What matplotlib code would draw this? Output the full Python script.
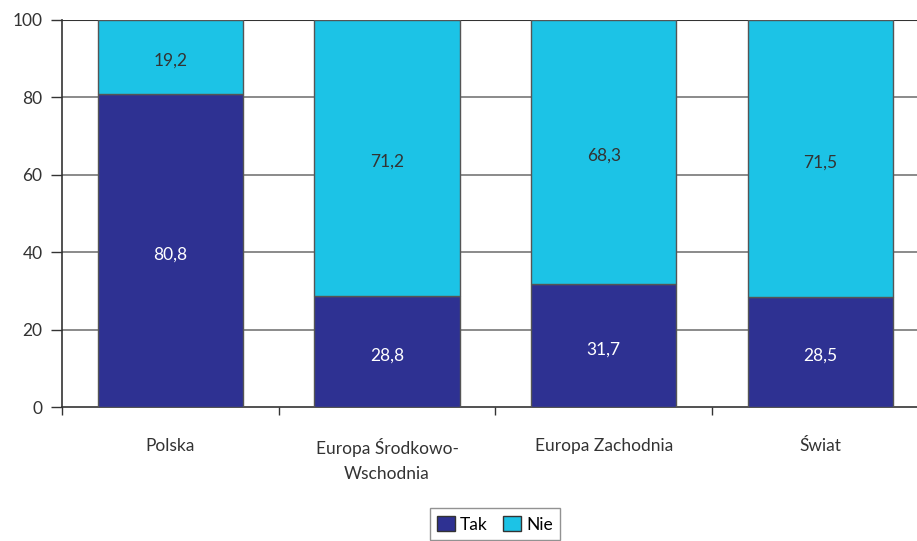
import matplotlib.pyplot as plt
import numpy as np

plt.rcParams['font.family'] = ['Lato', 'DejaVu Sans']

categories = ['Polska', 'Europa Środkowo-\nWschodnia', 'Europa Zachodnia', 'Świat']
tak = [80.8, 28.8, 31.7, 28.5]
nie = [19.2, 71.2, 68.3, 71.5]

c_tak = '#2E3192'
c_nie = '#1CC3E6'
fs = 12.5

fig = plt.figure(figsize=(9.17, 5.41), dpi=100)
ax = fig.add_axes([62 / 917, 1 - 407 / 541, 4 * 216.7 / 917, 387 / 541])

x = np.arange(len(categories))
ax.bar(x, tak, width=0.67, color=c_tak, edgecolor='#555555', linewidth=1, label='Tak', zorder=3)
ax.bar(x, nie, width=0.67, bottom=tak, color=c_nie, edgecolor='#555555', linewidth=1, label='Nie', zorder=3)

for i in range(len(categories)):
    ax.text(x[i], tak[i] / 2 - 1, f'{tak[i]:.1f}'.replace('.', ','), ha='center', va='center',
            color='white', fontsize=fs, zorder=4)
    ax.text(x[i], tak[i] + nie[i] / 2 - 1, f'{nie[i]:.1f}'.replace('.', ','), ha='center', va='center',
            color='#333333', fontsize=fs, zorder=4)

ax.set_xlim(-0.5, len(categories) - 0.5)
ax.set_ylim(0, 100)
ax.set_yticks([0, 20, 40, 60, 80, 100])
ax.set_xticks(x)
ax.set_xticklabels(categories, fontsize=fs, color='#333333', linespacing=1.75)
ax.set_xticks(np.arange(len(categories)) - 0.5, minor=True)
ax.tick_params(axis='x', which='major', length=0, pad=22)
ax.tick_params(axis='x', which='minor', length=6, width=1, color='#333333')
ax.tick_params(axis='y', length=8, width=1, color='#333333', labelsize=fs, labelcolor='#333333', pad=6)

for v in [20, 40, 60, 80]:
    ax.axhline(v, color='#777777', linewidth=1.2, zorder=1)
ax.axhline(100, color='#333333', linewidth=1.5, zorder=1)

for s in ['top', 'right']:
    ax.spines[s].set_visible(False)
for s in ['left', 'bottom']:
    ax.spines[s].set_color('#333333')
    ax.spines[s].set_linewidth(1.2)

leg = fig.legend(loc='lower center', bbox_to_anchor=(495 / 917, -0.015), ncol=2, frameon=True,
                 fancybox=False, edgecolor='#777777', fontsize=fs, handlelength=1.0,
                 handleheight=1.0, handletextpad=0.3, columnspacing=0.9, borderpad=0.45)
for h in leg.legend_handles:
    h.set_edgecolor('#333333')

fig.savefig('out.png', dpi=100)
